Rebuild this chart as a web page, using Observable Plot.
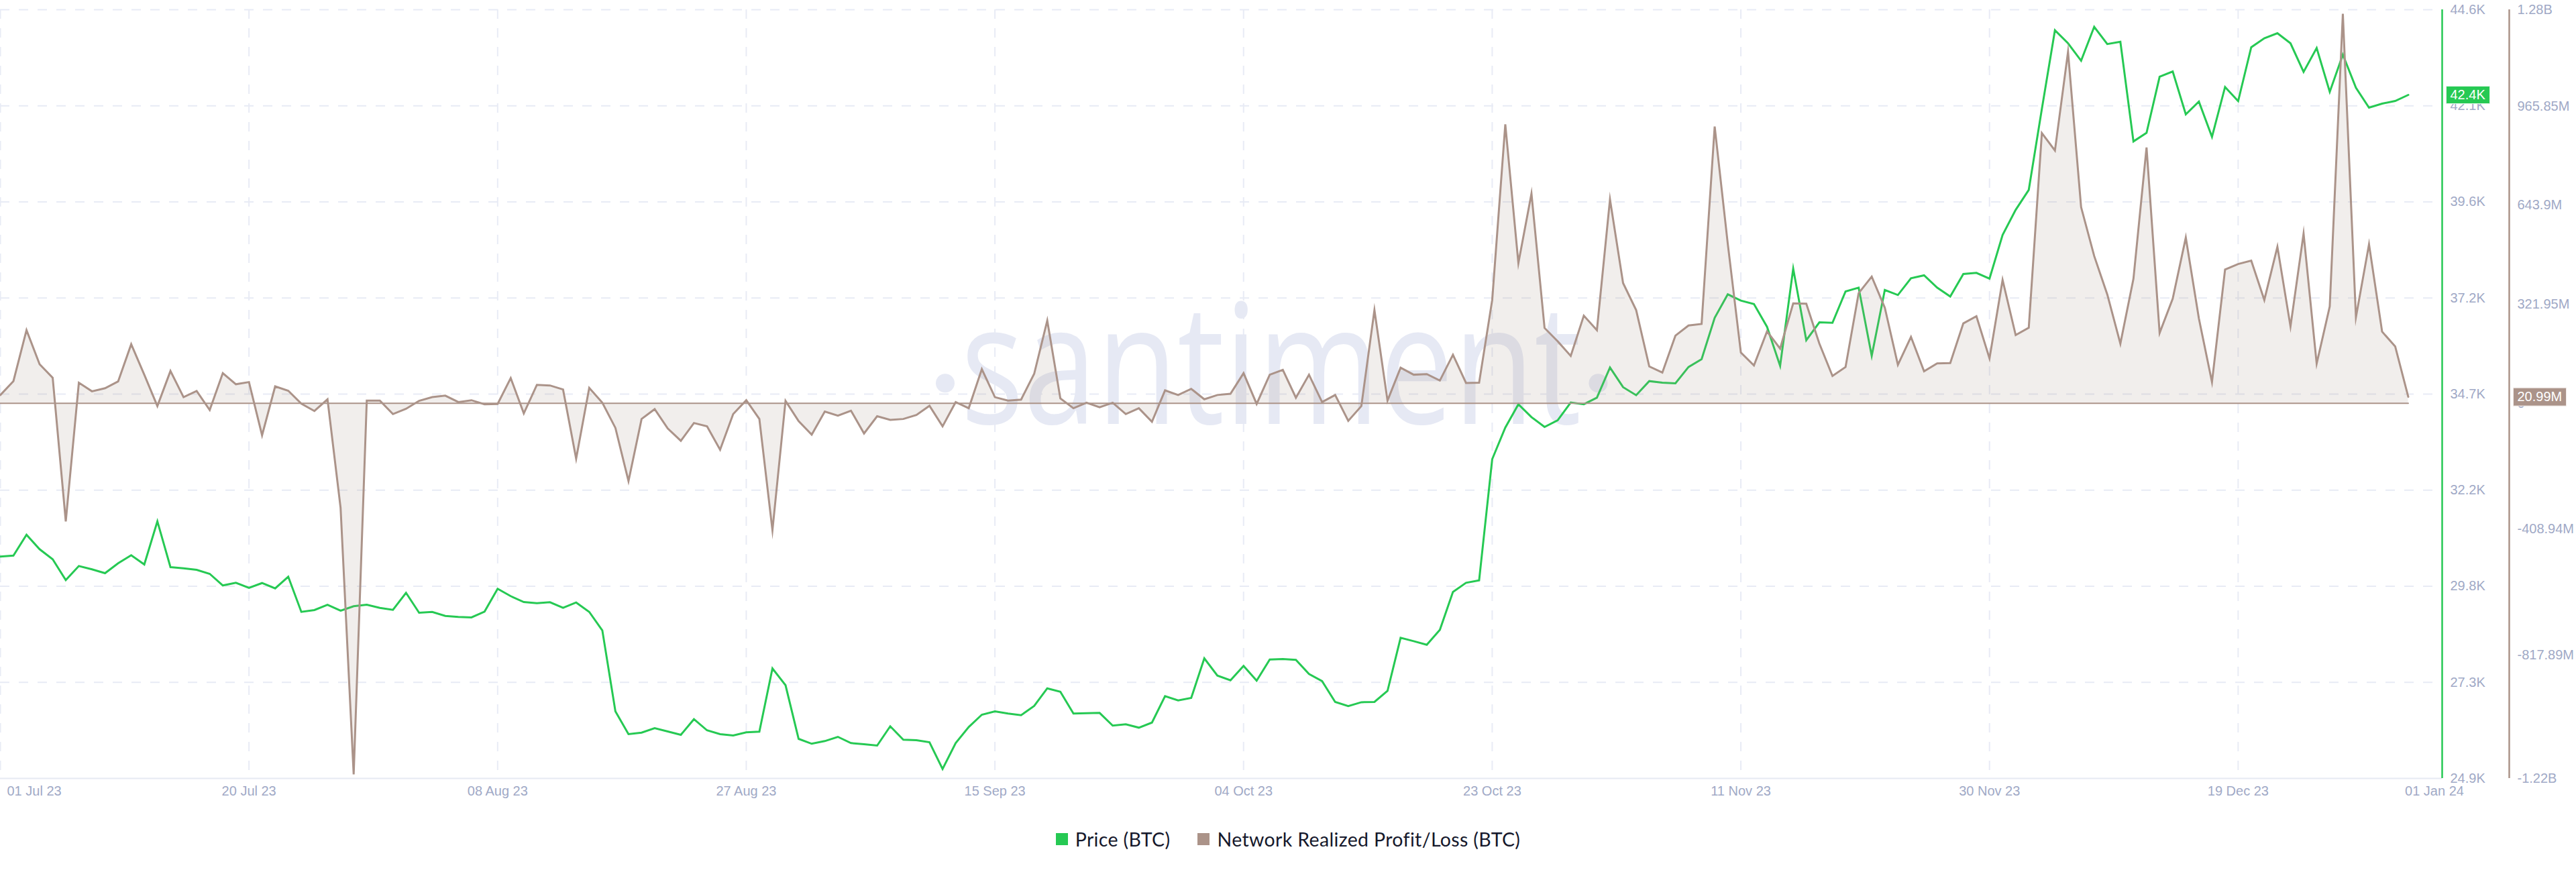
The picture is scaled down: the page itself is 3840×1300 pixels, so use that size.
<!DOCTYPE html>
<html>
<head>
<meta charset="utf-8">
<script src="https://cdn.jsdelivr.net/npm/d3@7"></script>
<script src="https://cdn.jsdelivr.net/npm/@observablehq/plot@0.6"></script>
<style>
html,body{margin:0;padding:0;background:#fff;}
#chart svg{display:block;}
#legend{display:flex;justify-content:center;align-items:center;height:62px;font-family:Lato,"Liberation Sans",sans-serif;font-size:28.5px;letter-spacing:.35px;color:#15182b;}
#legend i{display:inline-block;width:18px;height:18px;margin-right:11px;}
#legend span{display:inline-flex;align-items:center;margin-right:41px;}
#legend span:last-child{margin-right:0;}
</style>
</head>
<body>
<div id="chart"></div>
<div id="legend"></div>
<script>
const startDate = "2023-07-01";
const priceBTC = [30585,30612,31145,30774,30516,29983,30344,30258,30160,30413,30619,30384,31489,30315,30286,30246,30143,29846,29914,29782,29907,29770,30069,29168,29215,29352,29198,29313,29352,29271,29220,29657,29146,29168,29065,29038,29026,29175,29760,29571,29421,29392,29416,29271,29409,29168,28694,26619,26035,26074,26189,26103,26017,26418,26133,26035,26000,26081,26098,27719,27289,25914,25789,25857,25966,25806,25777,25742,26236,25892,25880,25828,25141,25806,26218,26533,26619,26562,26521,26757,27209,27123,26562,26573,26579,26253,26287,26201,26332,27009,26899,26963,27977,27535,27415,27783,27405,27948,27960,27938,27576,27393,26860,26753,26853,26860,27143,28503,28417,28326,28709,29679,29914,29976,33082,33890,34489,34159,33908,34079,34533,34489,34657,35432,34927,34721,35082,35042,35025,35443,35644,36704,37306,37145,37058,36474,35472,37964,36130,36589,36577,37380,37478,35730,37419,37289,37719,37793,37478,37251,37827,37856,37707,38827,39472,39983,42056,44072,43740,43293,44161,43720,43780,41225,41444,42884,43018,41918,42245,41341,42619,42258,43637,43869,43998,43740,43006,43620,42496,43448,42599,42090,42193,42262,42417];
const realizedPnlM = [27,72,238,127,83,-384,67,39,49,71,192,93,-9,105,20,40,-22,98,62,69,-104,55,41,-1,-25,13,-340,-1207,9,9,-35,-18,8,20,25,4,10,-3,-2,82,-33,60,58,45,-180,50,2,-80,-253,-51,-19,-82,-122,-64,-75,-151,-35,10,-51,-413,8,-58,-102,-27,-40,-24,-98,-42,-54,-51,-38,-8,-75,4,-16,111,20,9,12,96,269,16,-16,2,-13,2,-35,-16,-60,42,27,47,13,27,31,98,-2,93,109,18,93,4,27,-57,-9,303,9,116,93,95,74,158,66,67,336,907,456,682,245,202,154,285,238,663,391,303,120,100,220,253,258,900,519,165,123,234,178,325,324,194,89,118,358,412,311,125,216,104,130,131,260,283,146,401,222,246,879,822,1143,638,479,354,194,405,832,229,340,539,276,69,435,453,464,336,509,250,552,129,315,1267,280,517,233,185,21];

const priceTickValues = [24900,27362,29825,32288,34750,37212,39675,42138,44600];
const priceTickLabels = ["24.9K","27.3K","29.8K","32.2K","34.7K","37.2K","39.6K","42.1K","44.6K"];
const pnlTickValues = [1280,965.85,643.9,321.95,0,-408.94,-817.89,-1220];
const pnlTickLabels = ["1.28B","965.85M","643.9M","321.95M","0","-408.94M","-817.89M","-1.22B"];
const xTickDates = ["2023-07-01","2023-07-20","2023-08-08","2023-08-27","2023-09-15","2023-10-04","2023-10-23","2023-11-11","2023-11-30","2023-12-19","2024-01-01"];
const xTickLabels = ["01 Jul 23","20 Jul 23","08 Aug 23","27 Aug 23","15 Sep 23","04 Oct 23","23 Oct 23","11 Nov 23","30 Nov 23","19 Dec 23","01 Jan 24"];
const lastPriceLabel = "42.4K";
const lastPnlLabel = "20.99M";
const legendNames = ["Price (BTC)","Network Realized Profit/Loss (BTC)"];

const GREEN = "#26c953", BROWN = "#ab9389", GRID = "#e8ebf5", TICK = "#9fa9c6", MARK = "#e6e9f4";
const DAY = 86400000;
const t0 = new Date(startDate + "T00:00:00Z");
const dayAt = i => new Date(+t0 + i * DAY);
const xEnd = dayAt(186.59);
const priceDomain = [24900, 44600];
const pnlDomain = [-1220, 1280];
const pnlToY = d3.scaleLinear(pnlDomain, priceDomain);

const rows = priceBTC.map((p, i) => ({date: dayAt(i), price: p, pnl: realizedPnlM[i], y0: pnlToY(0), yp: pnlToY(realizedPnlM[i])}));
const last = rows[rows.length - 1];
const xTicks = xTickDates.map((d, i) => ({date: new Date(d + "T00:00:00Z"), label: xTickLabels[i]}));
const pTicks = priceTickValues.map((v, i) => ({v, label: priceTickLabels[i]}));
const nTicks = pnlTickValues.map((v, i) => ({y: pnlToY(v), label: pnlTickLabels[i]}));
const font = {fontFamily: "'Liberation Sans', Helvetica, Arial, sans-serif", fontSize: 20};
const chip = (w, h) => ({draw(ctx) { ctx.rect(-w / 2, -h / 2, w, h); }});

const chart = Plot.plot({
  width: 3840, height: 1220,
  marginLeft: 0, marginRight: 200, marginTop: 14, marginBottom: 60,
  style: {background: "#fff"},
  x: {type: "utc", domain: [t0, xEnd], axis: null},
  y: {domain: priceDomain, axis: null},
  marks: [
    Plot.ruleY(priceTickValues.slice(1), {stroke: GRID, strokeWidth: 2, strokeDasharray: "14 14"}),
    Plot.ruleX(xTicks.slice(0, -1), {x: "date", stroke: GRID, strokeWidth: 2, strokeDasharray: "14 14"}),
    Plot.text(["santiment"], {x: dayAt(97.1), y: pnlToY(0), text: d => d, dy: 31, lineAnchor: "bottom", textAnchor: "middle", fontFamily: "'Open Sans'", fontSize: 250, fill: MARK, className: "watermark"}),
    Plot.dot([dayAt(72.2), dayAt(122.1)], {x: d => d, y: pnlToY(0), dy: -30, r: 14, fill: MARK}),
    Plot.ruleY([priceDomain[0]], {stroke: "#e6e9f3", strokeWidth: 2}),
    Plot.line(rows, {x: "date", y: "price", stroke: GREEN, strokeWidth: 3, strokeLinejoin: "miter", strokeMiterlimit: 10}),
    Plot.areaY(rows, {x: "date", y1: "y0", y2: "yp", fill: BROWN, fillOpacity: 0.16}),
    Plot.line(rows, {x: "date", y: "y0", stroke: BROWN, strokeWidth: 2}),
    Plot.line(rows, {x: "date", y: "yp", stroke: BROWN, strokeWidth: 3, strokeLinejoin: "miter", strokeMiterlimit: 10}),
    Plot.ruleX([xEnd], {stroke: GREEN, strokeWidth: 2.5}),
    Plot.ruleX([xEnd], {stroke: BROWN, strokeWidth: 2.5, dx: 100}),
    Plot.text(xTicks.slice(0, 1), {x: "date", y: () => priceDomain[0], text: "label", dy: 19, dx: 10, textAnchor: "start", fill: TICK, ...font}),
    Plot.text(xTicks.slice(1, -1), {x: "date", y: () => priceDomain[0], text: "label", dy: 19, textAnchor: "middle", fill: TICK, ...font}),
    Plot.text(xTicks.slice(-1), {x: "date", y: () => priceDomain[0], text: "label", dy: 19, dx: 39, textAnchor: "middle", fill: TICK, ...font}),
    Plot.text(pTicks, {frameAnchor: "right", y: "v", text: "label", dx: 12, textAnchor: "start", fill: TICK, ...font}),
    Plot.text(nTicks, {frameAnchor: "right", y: "y", text: "label", dx: 112, textAnchor: "start", fill: TICK, ...font}),
    Plot.dot([last], {frameAnchor: "right", y: "price", dx: 38.5, r: 10, symbol: chip(65, 26), fill: GREEN, stroke: "#e4f7e9", strokeWidth: 1}),
    Plot.text([last], {frameAnchor: "right", y: "price", text: () => lastPriceLabel, dx: 12, textAnchor: "start", fill: "#fff", ...font}),
    Plot.dot([last], {frameAnchor: "right", y: "yp", dx: 145.5, r: 10, symbol: chip(79, 27), fill: BROWN, stroke: "#f1ecea", strokeWidth: 1}),
    Plot.text([last], {frameAnchor: "right", y: "yp", text: () => lastPnlLabel, dx: 112, textAnchor: "start", fill: "#fff", ...font})
  ]
});
d3.select(chart).selectAll(".watermark text").attr("textLength", 925).attr("lengthAdjust", "spacingAndGlyphs");
document.getElementById("chart").appendChild(chart);

const legendColors = [GREEN, BROWN];
const lg = document.getElementById("legend");
legendNames.forEach((n, i) => {
  const s = document.createElement("span");
  const b = document.createElement("i");
  b.style.background = legendColors[i];
  s.appendChild(b);
  s.appendChild(document.createTextNode(n));
  lg.appendChild(s);
});
</script>
</body>
</html>
